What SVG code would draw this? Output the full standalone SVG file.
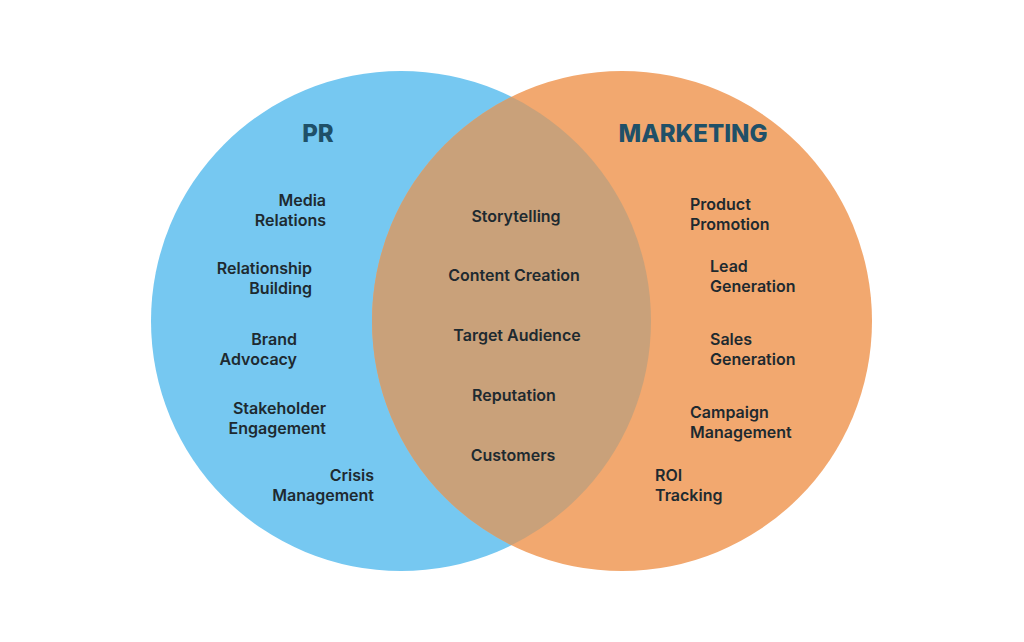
<svg xmlns="http://www.w3.org/2000/svg" width="1024" height="642" viewBox="0 0 1024 642">
<style>
.t{font-family:Inter,"Noto Sans",sans-serif;font-weight:600;font-size:16px;fill:#1e2a30}
.r{text-anchor:end}.c{text-anchor:middle}
.h{font-family:Inter,"Noto Sans",sans-serif;font-weight:800;font-size:24px;fill:#1f5068}
</style>
<defs><clipPath id="lc"><circle cx="401" cy="321" r="250"/></clipPath></defs>
<rect width="1024" height="642" fill="#fff"/>
<g id="pr"><circle cx="401" cy="321" r="250" fill="#76C8F1"/></g>
<g id="marketing"><circle cx="622" cy="321" r="250" fill="#F2A86F"/></g>
<g id="overlap"><circle cx="622" cy="321" r="250" fill="#C9A17A" clip-path="url(#lc)"/></g>
<g id="connectors"/>
<g id="labels">
<text class="h c" x="318" y="142">PR</text>
<text class="h c" x="693" y="142">MARKETING</text>
<text class="t r" x="326" y="206">Media</text><text class="t r" x="326" y="226">Relations</text>
<text class="t r" x="312" y="274">Relationship</text><text class="t r" x="312" y="294">Building</text>
<text class="t r" x="297" y="345">Brand</text><text class="t r" x="297" y="365">Advocacy</text>
<text class="t r" x="326" y="414">Stakeholder</text><text class="t r" x="326" y="434">Engagement</text>
<text class="t r" x="374" y="481">Crisis</text><text class="t r" x="374" y="501">Management</text>
<text class="t c" x="516" y="222">Storytelling</text>
<text class="t c" x="514" y="281">Content Creation</text>
<text class="t c" x="517" y="341">Target Audience</text>
<text class="t c" x="514" y="401">Reputation</text>
<text class="t c" x="513" y="461">Customers</text>
<text class="t" x="690" y="210">Product</text><text class="t" x="690" y="230">Promotion</text>
<text class="t" x="710" y="272">Lead</text><text class="t" x="710" y="292">Generation</text>
<text class="t" x="710" y="345">Sales</text><text class="t" x="710" y="365">Generation</text>
<text class="t" x="690" y="418">Campaign</text><text class="t" x="690" y="438">Management</text>
<text class="t" x="655" y="481">ROI</text><text class="t" x="655" y="501">Tracking</text>
</g>
</svg>
